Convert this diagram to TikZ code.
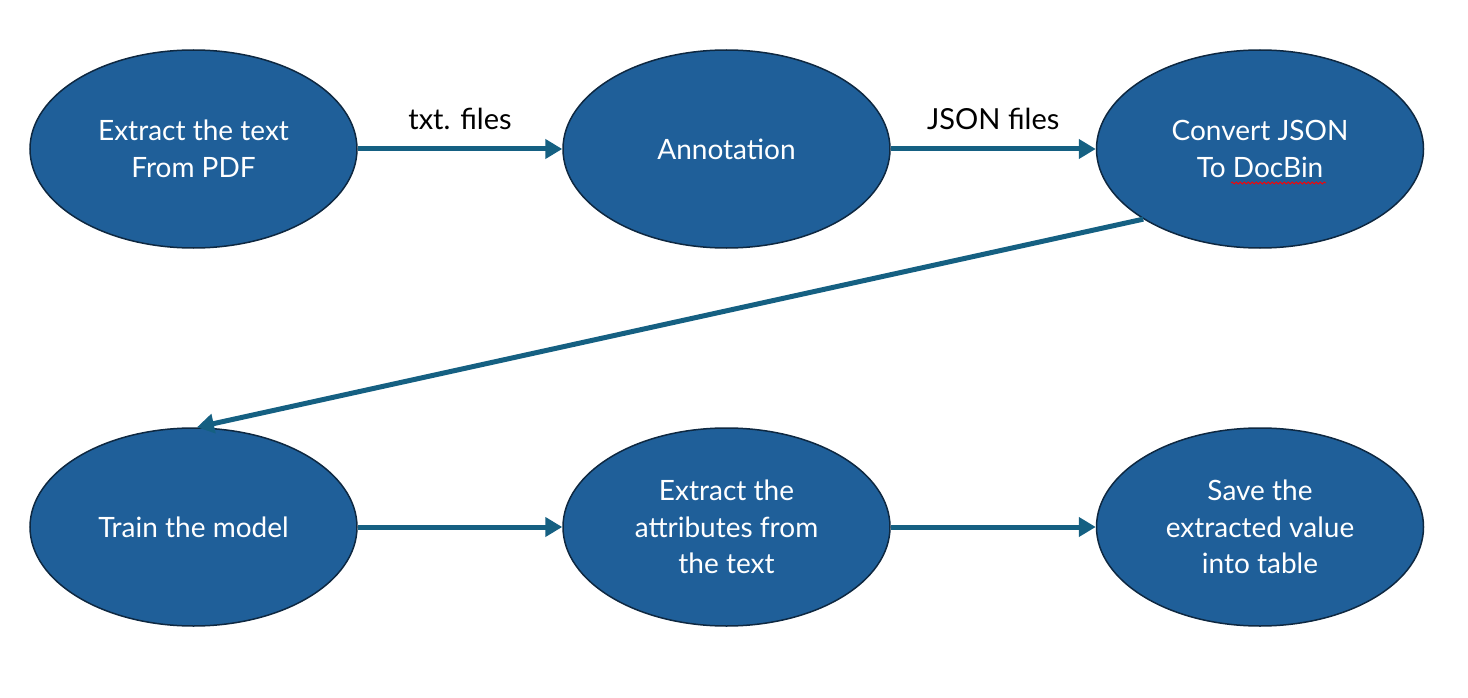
\documentclass[tikz,border=0pt]{standalone}
\usepackage{fontspec}
\setmainfont{Lato}
\usetikzlibrary{shapes.geometric,arrows.meta,decorations.pathmorphing}
\definecolor{ellfill}{HTML}{1F5F99}
\definecolor{ellline}{HTML}{0E2841}
\definecolor{arrcol}{HTML}{156082}
\begin{document}
\begin{tikzpicture}[x=1pt,y=-1pt,
  stage/.style={ellipse, draw=ellline, line width=1.5pt, fill=ellfill,
    minimum width=327pt, minimum height=198pt, inner sep=0pt,
    text=white, align=center, font=\fontsize{28}{36.5}\selectfont},
  flow/.style={draw=arrcol, line width=5pt, -{Triangle[length=17pt,width=19pt]}},
  lbl/.style={font=\fontsize{29}{32}\selectfont, text=black},
  squiggle/.style={draw=red, line width=0.8pt, decorate,
    decoration={snake, amplitude=1pt, segment length=4pt}}]
\useasboundingbox (0,0) rectangle (1468,698);
\node[stage] (n1) at (193.5,149) {Extract the text\\From PDF};
\node[stage] (n2) at (726.5,149) {Annotation};
\node[stage] (n3) at (1260,149) {Convert JSON\\To DocBin};
\node[stage] (n4) at (193.5,527) {Train the model};
\node[stage] (n5) at (726.5,527) {Extract the\\attributes from\\the text};
\node[stage] (n6) at (1260,527) {Save the\\extracted value\\into table};
\draw[flow] (n1) -- node[lbl, midway, yshift=30pt] {txt. files} (n2);
\draw[flow] (n2) -- node[lbl, midway, yshift=30pt] {JSON files} (n3);
\draw[flow] (n3.211.7) -- (n4.88);
\draw[flow] (n4) -- (n5);
\draw[flow] (n5) -- (n6);
\coordinate (sqa) at (1231,183);
\coordinate (sqb) at (1326,183);
\draw[squiggle] (sqa) -- (sqb);
\end{tikzpicture}
\end{document}
